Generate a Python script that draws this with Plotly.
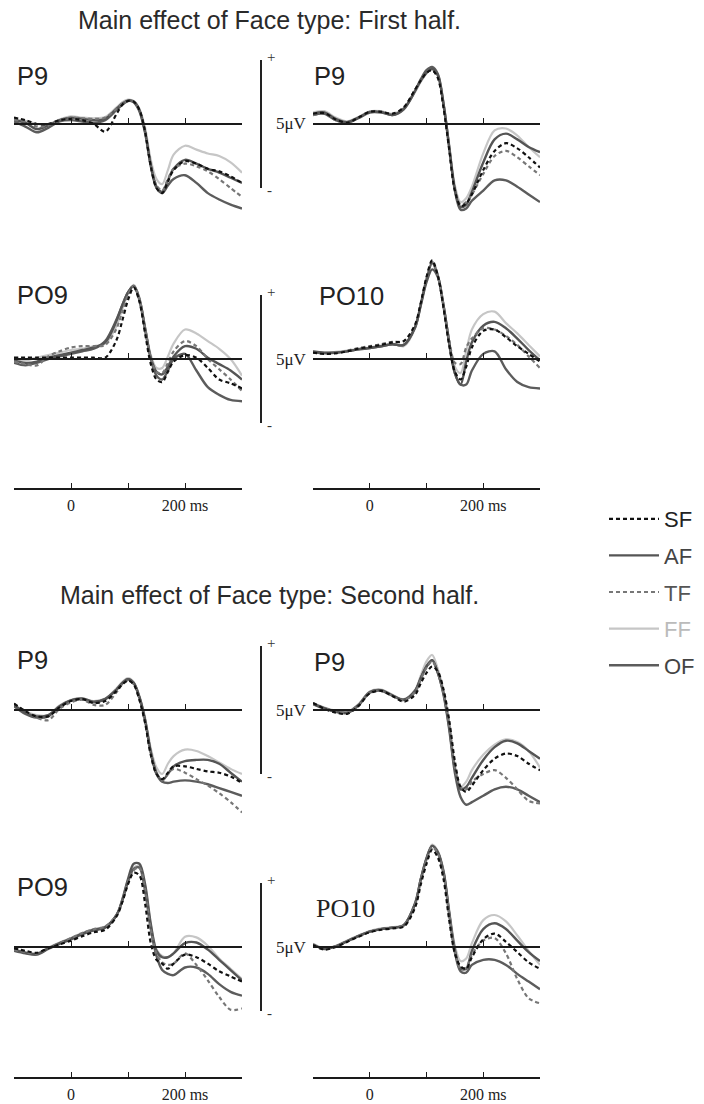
import plotly.graph_objects as go

# ---------------- data (µV) ----------------
time_ms = [-100, -80, -60, -40, -20, 0, 20, 40, 60, 80, 90, 100, 110, 120, 130,
           140, 150, 160, 170, 180, 200, 220, 240, 260, 280, 300]

conditions = ["SF", "AF", "TF", "FF", "OF"]

first_P9_left = dict(
    SF=[0.5, 0.3, 0.0, 0.0, 0.3, 0.4, 0.3, 0.0, -0.6, 0.8, 1.5, 1.8, 1.75, 1.1, -0.6, -3.3, -5.0, -5.4, -4.5, -3.6, -2.9, -3.1, -3.5, -3.7, -4.1, -4.6],
    AF=[0.3, 0.1, -0.4, -0.1, 0.3, 0.5, 0.4, 0.3, 0.4, 1.2, 1.6, 1.85, 1.75, 1.1, -0.6, -3.2, -4.9, -5.3, -4.4, -3.5, -2.8, -3.1, -3.5, -3.8, -4.2, -4.6],
    TF=[0.3, 0.2, -0.2, -0.1, 0.3, 0.5, 0.45, 0.4, 0.5, 1.2, 1.6, 1.8, 1.7, 1.0, -0.6, -3.2, -4.8, -5.2, -4.3, -3.5, -3.1, -3.3, -3.7, -4.3, -5.0, -5.7],
    FF=[0.35, 0.25, 0.0, 0.0, 0.35, 0.6, 0.5, 0.45, 0.55, 1.3, 1.7, 1.9, 1.8, 1.2, -0.3, -2.8, -4.3, -4.7, -3.6, -2.4, -1.7, -2.0, -2.3, -2.5, -3.0, -3.8],
    OF=[0.2, -0.2, -0.65, -0.3, 0.2, 0.3, 0.2, 0.1, 0.3, 1.1, 1.5, 1.8, 1.7, 1.0, -0.7, -3.3, -5.0, -5.4, -4.8, -4.3, -4.0, -4.6, -5.4, -5.9, -6.3, -6.6],
)
first_P9_right = dict(
    SF=[0.8, 0.85, 0.35, 0.1, 0.5, 0.95, 0.95, 0.8, 1.3, 2.7, 3.4, 4.0, 4.2, 3.6, 1.3, -2.0, -5.2, -6.4, -6.2, -5.5, -3.6, -2.1, -1.5, -1.9, -2.6, -3.4],
    AF=[0.8, 0.9, 0.4, 0.15, 0.5, 0.95, 0.95, 0.7, 1.2, 2.6, 3.4, 4.0, 4.3, 3.8, 1.5, -1.8, -5.1, -6.5, -6.3, -5.3, -3.0, -1.2, -0.75, -1.2, -1.8, -2.2],
    TF=[0.7, 0.8, 0.3, 0.1, 0.5, 0.95, 0.95, 0.8, 1.3, 2.7, 3.4, 4.0, 4.2, 3.6, 1.4, -1.9, -5.1, -6.3, -6.1, -5.5, -3.9, -2.5, -2.1, -2.6, -3.3, -4.0],
    FF=[0.9, 1.0, 0.5, 0.2, 0.55, 1.0, 1.0, 0.8, 1.25, 2.5, 3.3, 3.95, 4.3, 3.8, 1.6, -1.6, -4.8, -6.1, -5.8, -4.9, -2.3, -0.5, -0.35, -0.9, -1.8, -2.6],
    OF=[0.7, 0.8, 0.3, 0.1, 0.45, 0.9, 0.9, 0.7, 1.15, 2.6, 3.5, 4.2, 4.45, 3.9, 1.6, -1.8, -5.2, -6.7, -6.6, -6.0, -5.2, -4.4, -4.4, -4.9, -5.5, -6.1],
)
first_PO9_left = dict(
    SF=[0.1, 0.1, 0.1, 0.1, 0.1, 0.1, 0.1, 0.1, 0.1, 1.5, 3.0, 4.6, 5.6, 4.5, 2.0, -0.4, -1.6, -1.8, -1.0, -0.2, 0.3, 0.1, -0.7, -1.6, -1.9, -2.3],
    AF=[-0.1, -0.3, -0.2, 0.1, 0.3, 0.5, 0.7, 0.9, 1.3, 3.0, 4.2, 5.2, 5.7, 4.7, 2.4, 0.1, -1.0, -1.2, -0.6, 0.2, 1.0, 0.8, 0.1, -0.4, -0.9, -1.6],
    TF=[-0.2, -0.4, -0.5, 0.2, 0.6, 0.9, 1.0, 1.0, 1.1, 2.4, 3.7, 5.0, 5.7, 4.7, 2.4, 0.1, -1.0, -1.1, -0.3, 0.6, 1.4, 1.0, 0.0, -0.8, -1.6, -2.5],
    FF=[0.0, -0.1, 0.1, 0.3, 0.5, 0.7, 0.8, 1.0, 1.2, 2.6, 3.9, 5.1, 5.8, 4.8, 2.5, 0.3, -0.7, -0.7, 0.2, 1.2, 2.3, 2.0, 1.4, 0.8, 0.0, -1.3],
    OF=[-0.3, -0.5, -0.3, 0.0, 0.2, 0.4, 0.6, 0.8, 1.4, 3.1, 4.2, 5.2, 5.7, 4.6, 2.3, 0.0, -1.3, -1.6, -0.9, 0.0, 0.4, -0.9, -2.2, -2.8, -3.2, -3.3],
)
first_PO10_right = dict(
    SF=[0.5, 0.4, 0.45, 0.6, 0.8, 0.95, 1.1, 1.3, 1.4, 2.7, 4.4, 6.4, 7.7, 6.5, 4.0, 1.1, -1.0, -1.6, -0.6, 0.9, 2.2, 2.3, 1.7, 1.0, 0.4, -0.2],
    AF=[0.6, 0.5, 0.5, 0.6, 0.75, 0.85, 1.0, 1.15, 1.1, 2.5, 4.2, 6.0, 7.0, 6.4, 4.2, 1.3, -1.1, -2.0, -0.2, 1.3, 2.6, 2.9, 2.4, 1.6, 0.7, -0.1],
    TF=[0.5, 0.4, 0.45, 0.65, 0.85, 1.0, 1.15, 1.35, 1.4, 2.6, 4.3, 6.3, 7.6, 6.5, 4.2, 1.5, -0.3, -0.4, 0.9, 1.6, 2.4, 2.3, 1.8, 1.1, 0.2, -0.7],
    FF=[0.6, 0.5, 0.55, 0.65, 0.8, 0.9, 1.05, 1.2, 1.0, 2.4, 4.3, 6.3, 7.6, 6.6, 4.2, 1.4, -0.6, -1.1, 0.6, 2.3, 3.5, 3.7, 2.8, 2.0, 1.1, 0.2],
    OF=[0.55, 0.45, 0.5, 0.6, 0.75, 0.85, 1.0, 1.15, 1.1, 2.5, 4.3, 6.2, 7.5, 6.5, 4.1, 1.2, -1.1, -2.0, -2.0, -0.9, 0.4, 0.6, -0.8, -1.8, -2.2, -2.3],
)
second_P9_left = dict(
    SF=[0.5, -0.1, -0.5, -0.5, 0.2, 0.7, 0.85, 0.55, 0.7, 1.5, 2.0, 2.3, 2.0, 0.8, -1.0, -3.5, -5.0, -5.4, -4.9, -4.4, -4.4, -4.6, -4.8, -4.9, -5.2, -5.7],
    AF=[0.4, -0.2, -0.5, -0.4, 0.3, 0.75, 0.9, 0.65, 0.85, 1.6, 2.1, 2.4, 2.1, 1.0, -0.8, -3.3, -4.9, -5.5, -5.0, -4.4, -4.0, -3.9, -3.9, -4.2, -4.9, -5.6],
    TF=[0.5, -0.1, -0.6, -0.8, 0.1, 0.6, 0.8, 0.4, 0.4, 1.4, 2.0, 2.3, 2.0, 0.8, -1.0, -3.5, -5.0, -5.5, -5.0, -4.6, -4.9, -5.4, -5.9, -6.5, -7.2, -8.0],
    FF=[0.4, -0.1, -0.4, -0.4, 0.35, 0.8, 0.9, 0.7, 0.9, 1.7, 2.2, 2.5, 2.2, 1.1, -0.6, -3.0, -4.5, -5.0, -4.2, -3.6, -3.1, -3.2, -3.6, -4.1, -4.6, -5.0],
    OF=[0.3, -0.3, -0.6, -0.5, 0.25, 0.75, 0.85, 0.6, 0.85, 1.6, 2.1, 2.4, 2.1, 1.0, -0.8, -3.3, -5.0, -5.6, -5.7, -5.6, -5.5, -5.6, -5.8, -6.1, -6.4, -6.7],
)
second_P9_right = dict(
    SF=[0.55, 0.1, -0.2, -0.3, 0.3, 1.3, 1.5, 1.1, 0.65, 1.2, 2.1, 2.9, 3.4, 3.0, 1.6, -0.8, -4.0, -6.0, -6.4, -5.9, -4.7, -3.8, -3.4, -3.6, -4.2, -4.7],
    AF=[0.5, 0.15, -0.1, -0.2, 0.4, 1.4, 1.55, 1.15, 0.8, 1.5, 2.5, 3.4, 3.9, 2.9, 1.3, -1.3, -4.6, -6.2, -6.0, -5.3, -3.9, -2.9, -2.4, -2.6, -3.2, -3.8],
    TF=[0.5, 0.15, -0.1, -0.2, 0.4, 1.35, 1.5, 1.1, 0.75, 1.4, 2.4, 3.3, 3.8, 2.9, 1.3, -1.2, -4.5, -6.0, -6.2, -5.6, -5.0, -4.7, -5.3, -6.2, -7.1, -7.3],
    FF=[0.55, 0.2, -0.05, -0.15, 0.45, 1.45, 1.6, 1.2, 0.85, 1.6, 2.7, 3.8, 4.3, 3.2, 1.5, -1.0, -4.3, -6.0, -5.6, -4.7, -3.5, -2.7, -2.3, -2.5, -3.2, -4.5],
    OF=[0.45, 0.1, -0.15, -0.25, 0.35, 1.35, 1.5, 1.1, 0.8, 1.5, 2.5, 3.4, 3.9, 2.9, 1.2, -1.5, -4.9, -6.8, -7.4, -7.2, -6.7, -6.2, -6.0, -6.2, -6.7, -7.2],
)
second_PO9_left = dict(
    SF=[-0.1, -0.3, -0.45, -0.1, 0.2, 0.5, 0.85, 1.15, 1.35, 2.4, 3.5, 4.9, 5.8, 5.6, 3.4, 0.3, -1.0, -1.3, -1.7, -1.3, -0.6, -0.8, -1.3, -1.9, -2.3, -2.7],
    AF=[-0.2, -0.45, -0.55, -0.1, 0.3, 0.65, 1.05, 1.35, 1.55, 2.5, 3.7, 5.3, 6.5, 6.5, 4.9, 1.8, -0.3, -0.8, -0.8, -0.5, 0.3, 0.35, -0.2, -1.0, -1.8, -2.6],
    TF=[-0.2, -0.4, -0.5, -0.1, 0.3, 0.7, 1.1, 1.4, 1.6, 2.5, 3.6, 5.1, 6.0, 6.2, 4.5, 1.4, -0.5, -1.2, -1.4, -1.3, -0.5, -1.4, -2.6, -3.9, -4.9, -4.8],
    FF=[-0.2, -0.4, -0.5, -0.05, 0.35, 0.7, 1.1, 1.4, 1.6, 2.5, 3.7, 5.2, 6.2, 6.3, 4.7, 1.7, -0.2, -0.7, -0.8, -0.5, 0.8, 0.75, 0.1, -0.9, -1.7, -2.5],
    OF=[-0.3, -0.5, -0.6, -0.15, 0.25, 0.6, 1.0, 1.3, 1.5, 2.5, 3.6, 5.1, 6.1, 6.2, 4.4, 1.4, -0.7, -1.8, -2.1, -2.2, -1.6, -1.6, -2.1, -2.9, -3.5, -3.8],
)
second_PO10_right = dict(
    SF=[0.15, -0.2, 0.0, 0.4, 0.8, 1.15, 1.35, 1.45, 1.6, 3.1, 4.9, 6.5, 7.6, 7.0, 5.3, 2.1, -0.5, -1.5, -1.7, -0.8, 0.6, 1.05, 0.4, -0.4, -1.2, -1.7],
    AF=[0.2, -0.15, 0.05, 0.45, 0.85, 1.2, 1.4, 1.5, 1.7, 3.4, 5.3, 6.9, 7.9, 7.4, 5.9, 2.7, -0.2, -1.7, -1.7, -0.3, 1.4, 1.85, 1.4, 0.5, -0.4, -1.1],
    TF=[0.2, -0.15, 0.05, 0.45, 0.85, 1.2, 1.4, 1.5, 1.7, 3.3, 5.2, 6.8, 7.8, 7.3, 5.7, 2.6, -0.3, -1.7, -1.6, -0.6, 0.5, 0.7, -0.5, -2.5, -4.0, -4.4],
    FF=[0.25, -0.1, 0.1, 0.5, 0.9, 1.25, 1.45, 1.55, 1.75, 3.5, 5.4, 7.0, 8.0, 7.5, 6.0, 2.9, 0.1, -1.1, -0.9, 0.3, 2.1, 2.5, 2.0, 0.9, -0.3, -1.4],
    OF=[0.2, -0.15, 0.05, 0.45, 0.85, 1.2, 1.4, 1.5, 1.7, 3.4, 5.3, 6.9, 7.9, 7.4, 5.8, 2.6, -0.4, -1.9, -2.0, -1.4, -1.0, -1.0, -1.4, -2.1, -2.7, -3.3],
)

titles = ["Main effect of Face type: First half.", "Main effect of Face type: Second half."]
time_tickvals = [-100, 0, 100, 200]
time_ticktext = ["", "0", "", "200 ms"]
scale_uv = 5

# ---------------- layout / style ----------------
W, H = 704, 1104
UV_PX = 12.8
Y_RANGE = [-8.5, 8.5]
X_RANGE = [-100, 300]
SANS = "Liberation Sans, Arial, sans-serif"
SERIF = "Liberation Serif, Times New Roman, serif"
INK = "#1a1a1a"
col_px = {"L": (14, 242), "R": (313, 540)}

styles = {
    "SF": dict(color="#111111", width=2.2, dash="4px,3px"),
    "AF": dict(color="#555555", width=2.4, dash="solid"),
    "TF": dict(color="#777777", width=2.2, dash="4px,3px"),
    "FF": dict(color="#c6c6c6", width=2.2, dash="solid"),
    "OF": dict(color="#5c5c5c", width=2.4, dash="solid"),
}
legend_text_color = {"SF": "#222222", "AF": "#444444", "TF": "#555555", "FF": "#bbbbbb", "OF": "#444444"}
draw_order = ["FF", "OF", "AF", "TF", "SF"]

# (data, column, baseline px, label, label font, label x px, label y px)
panels = [
    (first_P9_left, "L", 124, "P9", SANS, 15, 76),
    (first_P9_right, "R", 124, "P9", SANS, 312, 76),
    (first_PO9_left, "L", 359, "PO9", SANS, 15, 295),
    (first_PO10_right, "R", 359, "PO10", SANS, 317, 296),
    (second_P9_left, "L", 710, "P9", SANS, 15, 660),
    (second_P9_right, "R", 710, "P9", SANS, 312, 662),
    (second_PO9_left, "L", 947, "PO9", SANS, 15, 887),
    (second_PO10_right, "R", 947, "PO10", SERIF, 314, 908),
]

fig = go.Figure()
layout_axes = {}
annotations = []
shapes = []

for i, (data, col, base, label, fam, lx, ly) in enumerate(panels, start=1):
    sfx = "" if i == 1 else str(i)
    xa, ya = "x" + sfx, "y" + sfx
    x0, x1 = col_px[col]
    top_px = base - Y_RANGE[1] * UV_PX
    bot_px = base - Y_RANGE[0] * UV_PX
    layout_axes["xaxis" + sfx] = dict(
        domain=[x0 / W, x1 / W], range=X_RANGE, anchor="free", position=1 - base / H,
        showline=True, linecolor=INK, linewidth=1.6, ticks="inside", ticklen=5,
        tickwidth=1.4, tickcolor=INK, tickvals=time_tickvals, showticklabels=False,
        showgrid=False, zeroline=False, fixedrange=True)
    layout_axes["yaxis" + sfx] = dict(
        domain=[1 - bot_px / H, 1 - top_px / H], range=Y_RANGE, visible=False,
        anchor=xa, fixedrange=True)
    for name in draw_order:
        st = styles[name]
        fig.add_trace(go.Scatter(
            x=time_ms, y=data[name], xaxis=xa, yaxis=ya, mode="lines",
            line=dict(color=st["color"], width=st["width"], dash=st["dash"], shape="spline", smoothing=0.9),
            name=f'<span style="color:{legend_text_color[name]}">{name}</span>',
            legendgroup=name, legendrank=conditions.index(name) + 1,
            showlegend=(i == 1), hoverinfo="skip"))
    annotations.append(dict(text=label, x=lx / W, y=1 - ly / H, xref="paper", yref="paper",
                            xanchor="left", yanchor="middle", showarrow=False,
                            font=dict(family=fam, size=25.5 if fam == SANS else 26, color="#222222")))
    if col == "L":
        bar_x = 261 / W
        shapes.append(dict(type="line", xref="paper", yref=ya, x0=bar_x, x1=bar_x,
                           y0=-scale_uv, y1=scale_uv, line=dict(color="#222222", width=2)))
        annotations.append(dict(text="+", x=265 / W, y=scale_uv, xref="paper", yref=ya,
                                xanchor="left", yanchor="bottom", showarrow=False, yshift=-7,
                                font=dict(family=SERIF, size=15, color="#333333")))
        annotations.append(dict(text="-", x=265 / W, y=-scale_uv, xref="paper", yref=ya,
                                xanchor="left", yanchor="middle", showarrow=False, yshift=-2,
                                font=dict(family=SERIF, size=15, color="#333333")))
        annotations.append(dict(text=f"{scale_uv}μV", x=274 / W, y=0, xref="paper", yref=ya,
                                xanchor="left", yanchor="middle", showarrow=False,
                                font=dict(family=SERIF, size=17, color="#222222")))

# bottom time axes (one per column per half)
time_axes = [(3, 489), (4, 489), (7, 1078), (8, 1078)]
for j, (pidx, ypx) in enumerate(time_axes, start=9):
    base_x = "x" + str(pidx)
    x0, x1 = col_px[panels[pidx - 1][1]]
    layout_axes["xaxis" + str(j)] = dict(
        overlaying=base_x, domain=[x0 / W, x1 / W], range=X_RANGE, anchor="free",
        position=1 - ypx / H, showline=True, linecolor=INK, linewidth=1.6,
        ticks="inside", ticklen=5, tickwidth=1.4, tickcolor=INK,
        tickvals=time_tickvals, ticktext=time_ticktext, ticklabelstandoff=2,
        tickfont=dict(family=SERIF, size=16, color="#222222"),
        showgrid=False, zeroline=False, fixedrange=True)
    fig.add_trace(go.Scatter(x=[X_RANGE[0], X_RANGE[1]], y=[None, None], xaxis="x" + str(j),
                             yaxis="y" + str(pidx), mode="lines", showlegend=False, hoverinfo="skip"))

for ttl, ypx in zip(titles, [20, 595]):
    annotations.append(dict(text=ttl, x=269 / W, y=1 - ypx / H, xref="paper", yref="paper",
                            xanchor="center", yanchor="middle", showarrow=False,
                            font=dict(family=SANS, size=25, color="#2a2a2a")))

fig.update_layout(
    width=W, height=H, margin=dict(l=0, r=0, t=0, b=0),
    paper_bgcolor="white", plot_bgcolor="rgba(0,0,0,0)",
    showlegend=True,
    legend=dict(x=604 / W, y=1 - 498 / H, xanchor="left", yanchor="top",
                traceorder="grouped", tracegroupgap=5, itemwidth=50,
                font=dict(family=SANS, size=22, color="#333333"),
                bgcolor="rgba(0,0,0,0)"),
    annotations=annotations, shapes=shapes,
    **layout_axes,
)

fig.write_html("out.html")
